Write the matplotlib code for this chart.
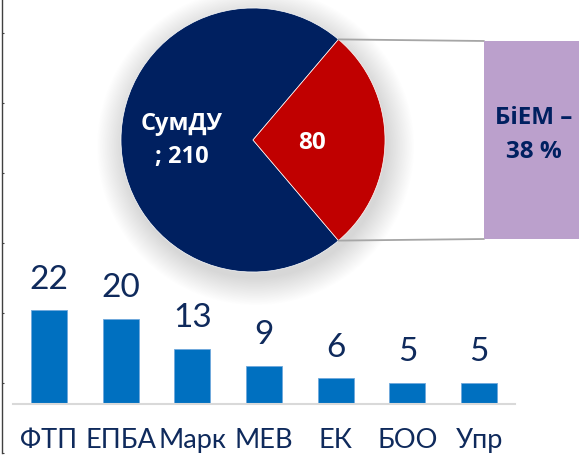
import matplotlib
matplotlib.use("Agg")
import matplotlib.pyplot as plt
from matplotlib.patches import Circle, Rectangle, ConnectionPatch
import numpy as np

# ---- data ----
categories = ["ФТП", "ЕПБА", "Марк", "МЕВ", "ЕК", "БОО", "Упр"]
values = [22, 20, 13, 9, 6, 5, 5]
pie_labels = ["СумДУ\n; 210", "80"]
pie_values = [210, 80]
box_text = "БіЕМ –\n38 %"

plt.rcParams['font.family'] = ['Lato', 'DejaVu Sans']
BOLD_FAMILY = ['Open Sans', 'Noto Sans', 'DejaVu Sans']

W, H = 579, 459
fig = plt.figure(figsize=(W / 100, H / 100), dpi=100)
fig.patch.set_facecolor("white")


def px(x0, top, w, h):
    return [x0 / W, (H - top - h) / H, w / W, h / H]


NAVY_TXT = "#0F2A5C"

# ---- left decorative axis ----
axl = fig.add_axes(px(1.5, 0, 4, 453))
axl.set_ylim(0, 453)
axl.set_yticks(np.arange(0, 421, 70))
axl.set_yticklabels([])
axl.set_xticks([])
for s in ["top", "right", "bottom"]:
    axl.spines[s].set_visible(False)
axl.spines["left"].set_color("#404040")
axl.spines["left"].set_linewidth(1.0)
axl.tick_params(axis="y", direction="in", length=1.5, width=0.8, color="#404040",
                right=False, left=True)
axl.patch.set_alpha(0)

# ---- bar chart ----
ax = fig.add_axes(px(13, 276, 502, 128))
ax.patch.set_alpha(0)
x = np.arange(len(categories))
bars = ax.bar(x, values, width=0.5, color="#0070C0", edgecolor="#6FA8DC", linewidth=0.6)
ax.set_xlim(-0.5, len(categories) - 0.5)
ax.set_ylim(0, 30)
ax.set_xticks(x)
ax.set_xticklabels(categories, fontsize=19.5, color=NAVY_TXT)
ax.tick_params(axis="x", length=0, pad=17.5)
ax.set_yticks([])
for s in ["top", "right", "left"]:
    ax.spines[s].set_visible(False)
ax.spines["bottom"].set_color("#D9D9D9")
ax.spines["bottom"].set_linewidth(1.5)
ax.bar_label(bars, labels=[str(v) for v in values], padding=11, fontsize=24, color=NAVY_TXT)

# ---- pie ----
R = 132
L = 1.3
side = 2 * R * L
cx, cy = 253, 140
axp = fig.add_axes(px(cx - side / 2, cy - side / 2, side, side))
axp.patch.set_alpha(0)
for r in np.linspace(1.0, 1.2, 20):
    axp.add_patch(Circle((0.02, -0.05), r, color="#808080", alpha=0.01, lw=0, zorder=0))
theta = 360 * pie_values[1] / sum(pie_values)
wedges, texts = axp.pie(pie_values, colors=["#002060", "#C00000"], startangle=theta / 2,
                        counterclock=True, radius=1.0,
                        wedgeprops=dict(linewidth=0.5, edgecolor="white"))
for w in wedges:
    w.set_zorder(2)
axp.set_xlim(-L, L)
axp.set_ylim(-L, L)
axp.set_aspect("equal")
axp.axis("off")
axp.text(-0.54, 0.0, pie_labels[0], ha="center", va="center", fontsize=17,
         fontweight="bold", family=BOLD_FAMILY, color="white", linespacing=1.5, zorder=3)
axp.text(0.45, -0.02, pie_labels[1], ha="center", va="center", fontsize=17.5,
         fontweight="bold", family=BOLD_FAMILY, color="white", zorder=3)

# ---- box ----
bx0, btop, bw, bh = 484, 41, 100, 198
fig.patches.append(Rectangle((bx0 / W, (H - btop - bh) / H), bw / W, bh / H,
                             transform=fig.transFigure, facecolor="#BBA0CC",
                             edgecolor="none", zorder=1))
fig.text(534 / W, 1 - 135 / H, box_text, ha="center", va="center", fontsize=17.5,
         fontweight="bold", family=BOLD_FAMILY, color="#002060", linespacing=1.6)

# ---- connector lines ----
w = wedges[1]
for ang, by in [(w.theta2, btop), (w.theta1, btop + bh)]:
    a = np.deg2rad(ang)
    cp = ConnectionPatch(xyA=(np.cos(a), np.sin(a)), coordsA=axp.transData,
                         xyB=(bx0 / W, 1 - by / H), coordsB=fig.transFigure,
                         color="#A6A6A6", linewidth=1.3)
    fig.add_artist(cp)

fig.savefig("out.png", dpi=100)
